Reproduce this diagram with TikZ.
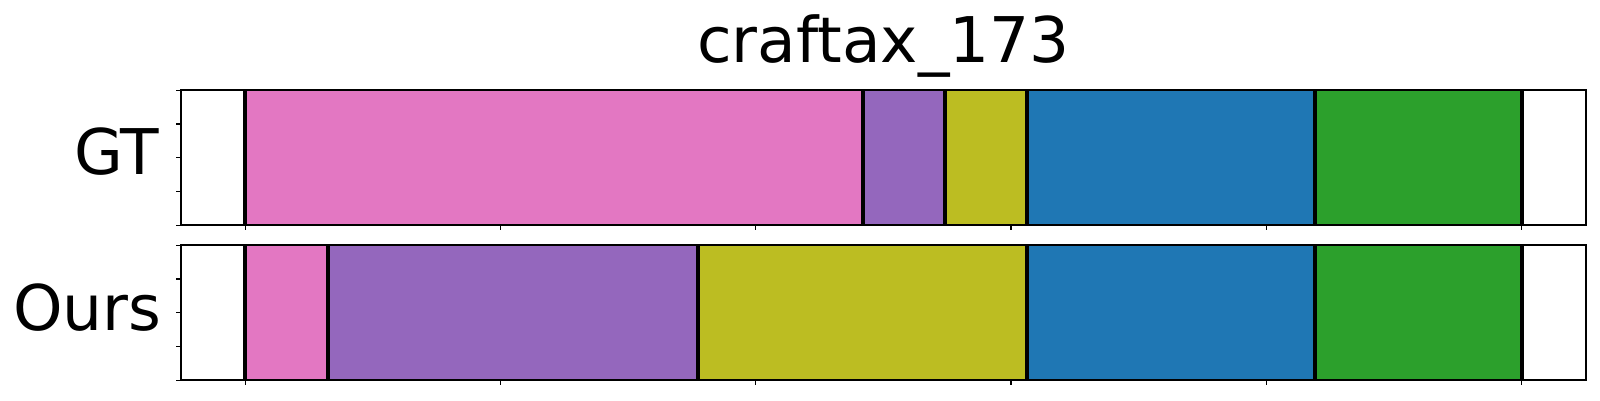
\documentclass[tikz,border=0pt]{standalone}
\usepackage{fontspec}
\setmainfont{DejaVu Sans}
\definecolor{tpink}{HTML}{E377C2}
\definecolor{tpurple}{HTML}{9467BD}
\definecolor{tolive}{HTML}{BCBD22}
\definecolor{tblue}{HTML}{1F77B4}
\definecolor{tgreen}{HTML}{2CA02C}
\tikzset{
  spine/.style={draw=black, line width=2pt},
  sep/.style={draw=black, line width=4pt},
  tick/.style={draw=black, line width=1.3pt},
  biglabel/.style={inner sep=0pt, font=\fontsize{63}{70}\selectfont},
}
\begin{document}
\begin{tikzpicture}[x=1pt,y=-1pt]
\fill[white] (0,0) rectangle (1600,400);
\useasboundingbox (0,0) rectangle (1600,400);
% title
\node[biglabel, anchor=base] (title) at (883.5,62.3) {craftax\_173};
% row labels
\node[biglabel, anchor=base east] (gt) at (159.5,174.3) {GT};
\node[biglabel, anchor=base east] (ours) at (161.5,330) {Ours};
% --- GT panel (y 90.3 .. 225.3)
\fill[tpink]   (245.3,90.3) rectangle (863,225.3);
\fill[tpurple] (863,90.3) rectangle (945,225.3);
\fill[tolive]  (945,90.3) rectangle (1027,225.3);
\fill[tblue]   (1027,90.3) rectangle (1315,225.3);
\fill[tgreen]  (1315,90.3) rectangle (1521.5,225.3);
\foreach \x in {245.3,863,945,1027,1315,1521.5}
  \draw[sep] (\x,90.3) -- (\x,225.3);
% --- Ours panel (y 245.3 .. 380.3)
\fill[tpink]   (245.3,245.3) rectangle (327.7,380.3);
\fill[tpurple] (327.7,245.3) rectangle (698,380.3);
\fill[tolive]  (698,245.3) rectangle (1027,380.3);
\fill[tblue]   (1027,245.3) rectangle (1315,380.3);
\fill[tgreen]  (1315,245.3) rectangle (1521.5,380.3);
\foreach \x in {245.3,327.7,698,1027,1315,1521.5}
  \draw[sep] (\x,245.3) -- (\x,380.3);
% frames
\draw[spine] (181.3,90.3) rectangle (1585.7,225.3);
\draw[spine] (181.3,245.3) rectangle (1585.7,380.3);
% ticks
\foreach \k in {0,...,5}{
  \draw[tick] ({245.3+255.24*\k},225.3) -- ++(0,5);
  \draw[tick] ({245.3+255.24*\k},380.3) -- ++(0,5);
}
\foreach \k in {0,...,4}{
  \draw[tick] (181.3,{90.3+33.75*\k}) -- ++(-5,0);
  \draw[tick] (181.3,{245.3+33.75*\k}) -- ++(-5,0);
}
\end{tikzpicture}
\end{document}
